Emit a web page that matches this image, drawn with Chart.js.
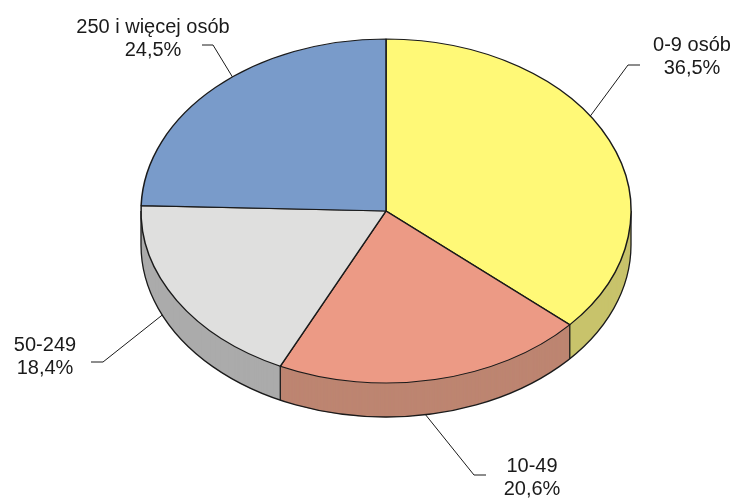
<!DOCTYPE html>
<html lang="pl">
<head>
<meta charset="UTF-8">
<title>Pracujący według klas wielkości</title>
<script src="https://cdn.jsdelivr.net/npm/chart.js"></script>
<style>
  body { margin: 0; padding: 0; background: #fff; }
  canvas { display: block; }
</style>
</head>
<body>
<canvas id="pieChart" width="739" height="500"></canvas>
<script>
const categories = ['0-9 osób', '10-49', '50-249', '250 i więcej osób'];
const shares = [36.5, 20.6, 18.4, 24.5];
const topColors = ['#fff977', '#ec9a85', '#dfdfde', '#799bca'];
const sideColors = ['#c8c36b', '#bd8571', '#ababab', '#6a86b0'];

// top face ellipse + thickness (px)
const CX = 386, CY = 211, RX = 245, RY = 172, DEPTH = 34;
const EDGE = '#1a1a1a';

// label placement: text centre x, baselines, leader elbow, where on the slice the leader points (0..1)
const labelLayout = [
  { x: 692, y: 51, elbowX: 628, endX: 640, lineY: 65, at: 0.43 },
  { x: 532, y: 472, elbowX: 474, endX: 486, lineY: 475, at: 0.53 },
  { x: 45, y: 351, elbowX: 103, endX: 91, lineY: 362, at: 0.61 },
  { x: 153, y: 33, elbowX: 213, endX: 202, lineY: 45, at: 0.56 }
];

function pct(v) {
  return v.toFixed(1).replace('.', ',') + '%';
}

// squash the round pie into the ellipse, shifted down by dy
function toFace(ctx, arc, dy) {
  const s = RX / arc.outerRadius;
  ctx.translate(CX, CY + dy);
  ctx.scale(s, s * RY / RX);
  ctx.translate(-arc.x, -arc.y);
}

function onFace(a, dy) {
  return { x: CX + RX * Math.cos(a), y: CY + RY * Math.sin(a) + dy };
}

const pie3d = {
  id: 'pie3d',
  beforeDatasetsDraw(chart) {
    const ctx = chart.ctx;
    const arcs = chart.getDatasetMeta(0).data;

    // side walls: stacked copies in the darker colours
    for (let d = DEPTH; d >= 1; d--) {
      arcs.forEach((arc, i) => {
        ctx.save();
        toFace(ctx, arc, d);
        const saved = arc.options;
        arc.options = Object.assign({}, saved, { backgroundColor: sideColors[i], borderWidth: 0 });
        arc.draw(ctx);
        arc.options = saved;
        ctx.restore();
      });
    }

    // outline of the wall
    ctx.save();
    ctx.strokeStyle = EDGE;
    ctx.lineWidth = 1.3;
    ctx.beginPath();
    ctx.moveTo(CX + RX, CY);
    ctx.lineTo(CX + RX, CY + DEPTH);
    ctx.ellipse(CX, CY + DEPTH, RX, RY, 0, 0, Math.PI);
    ctx.lineTo(CX - RX, CY);
    ctx.stroke();
    ctx.restore();

    // top face is drawn by chart.js under this transform
    ctx.save();
    toFace(ctx, arcs[0], 0);
  },
  afterDatasetsDraw(chart) {
    const ctx = chart.ctx;
    ctx.restore();
    const arcs = chart.getDatasetMeta(0).data;

    ctx.save();
    ctx.strokeStyle = EDGE;
    ctx.lineWidth = 1.3;
    // vertical edges where slices meet on the front
    arcs.forEach(arc => {
      const a = arc.startAngle;
      if (Math.sin(a) > 0.02) {
        const p = onFace(a, 0);
        ctx.beginPath();
        ctx.moveTo(p.x, p.y);
        ctx.lineTo(p.x, p.y + DEPTH);
        ctx.stroke();
      }
    });

    // leaders and labels
    ctx.lineWidth = 1;
    ctx.font = '20px "Liberation Sans", Arial, sans-serif';
    ctx.textAlign = 'center';
    ctx.textBaseline = 'alphabetic';
    ctx.fillStyle = '#1a1a1a';
    arcs.forEach((arc, i) => {
      const L = labelLayout[i];
      const a = arc.startAngle + (arc.endAngle - arc.startAngle) * L.at;
      const p = onFace(a, Math.sin(a) > 0 ? DEPTH : 0);
      ctx.beginPath();
      ctx.moveTo(p.x, p.y);
      ctx.lineTo(L.elbowX, L.lineY);
      ctx.lineTo(L.endX, L.lineY);
      ctx.stroke();
      ctx.fillText(categories[i], L.x, L.y);
      ctx.fillText(pct(shares[i]), L.x, L.y + 23);
    });
    ctx.restore();
  }
};

new Chart(document.getElementById('pieChart'), {
  type: 'pie',
  data: {
    labels: categories,
    datasets: [{
      data: shares,
      backgroundColor: topColors,
      borderColor: EDGE,
      borderWidth: 1.5
    }]
  },
  options: {
    responsive: false,
    animation: false,
    layout: { padding: { left: 140, right: 109, top: 5, bottom: 5 } },
    plugins: {
      legend: { display: false },
      tooltip: { enabled: false }
    }
  },
  plugins: [pie3d]
});
</script>
</body>
</html>
